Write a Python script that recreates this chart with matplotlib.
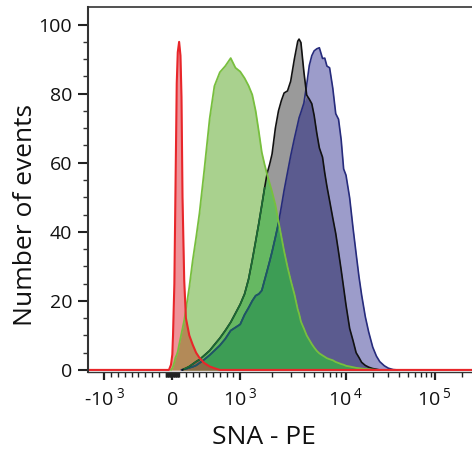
import numpy as np
import matplotlib
matplotlib.use("Agg")
import matplotlib.pyplot as plt
from matplotlib.ticker import FixedLocator, FixedFormatter, NullFormatter

plt.rcParams["font.family"] = ["Open Sans", "DejaVu Sans"]
plt.rcParams["mathtext.fontset"] = "custom"
plt.rcParams["mathtext.rm"] = "Open Sans"
plt.rcParams["mathtext.it"] = "Open Sans:italic"
plt.rcParams["mathtext.bf"] = "Open Sans:bold"

# fluorescence channel values (common bins for every histogram)
fluor = np.array([
    -1250, -300, -150, -50, -20, 0, 10, 30, 45, 65,
    80, 100, 120, 135, 150, 175, 200, 250, 300, 350,
    400, 470, 550, 620, 700, 780, 860, 930, 1000, 1100,
    1200, 1300, 1400, 1500, 1600, 1700, 1800, 1900, 2000, 2150,
    2300, 2450, 2600, 2800, 3000, 3250, 3500, 3600, 3750, 4000,
    4250, 4500, 4750, 5000, 5300, 5600, 6000, 6300, 6600, 7000,
    7500, 8000, 8500, 9000, 9500, 10000, 11000, 12000, 13000, 14000,
    15000, 16500, 18000, 20000, 22000, 24000, 27000, 30000, 34000, 38000,
    43000, 50000, 262144])

# unstained (red)
red = np.array([
    0, 0, 0, 0, 1.5, 4.5, 10, 25, 50, 83,
    92, 95, 91, 79, 50, 26, 15, 10, 7.3, 5,
    3.5, 2, 1, 0.5, 0, 0, 0, 0, 0, 0,
    0, 0, 0, 0, 0, 0, 0, 0, 0, 0,
    0, 0, 0, 0, 0, 0, 0, 0, 0, 0,
    0, 0, 0, 0, 0, 0, 0, 0, 0, 0,
    0, 0, 0, 0, 0, 0, 0, 0, 0, 0,
    0, 0, 0, 0, 0, 0, 0, 0, 0, 0,
    0, 0, 0])

# light green sample
green = np.array([
    0, 0, 0, 0, 0, 0.5, 1, 2.3, 3.5, 4.4,
    5.3, 7.3, 9.2, 10.6, 12, 14.4, 17.5, 24, 31.7, 38.3,
    45.4, 57.8, 72.8, 82.2, 86.2, 88, 90.3, 87.5, 86.4, 84.5,
    82.3, 79.7, 75, 69, 63, 59.5, 56.5, 54, 51.6, 47.8,
    43, 38.6, 34.4, 29.8, 26, 22, 17.5, 16.3, 14, 12,
    10, 8.7, 7.5, 6.5, 5.5, 4.8, 4.2, 3.8, 3.4, 3.1,
    2.8, 2.3, 2, 1.7, 1.5, 1.2, 1, 0.8, 0.6, 0.5,
    0.4, 0.3, 0.2, 0.1, 0, 0, 0, 0, 0, 0,
    0, 0, 0])

# grey sample (black outline)
black = np.array([
    0, 0, 0, 0, 0, 0, 0, 0, 0, 0,
    0, 0, 0, 0, 0, 0.3, 0.5, 1, 1.7, 2.4,
    3, 4.2, 5.6, 7.3, 9.2, 11.4, 13.8, 16.4, 19, 22,
    26.3, 31.8, 37.3, 42.5, 47.7, 52.7, 57, 59.6, 62.5, 70,
    75, 78, 80.2, 80.8, 83.6, 90, 95.2, 95.8, 94.8, 86.3,
    79.6, 78.4, 77.1, 73.7, 68.5, 64.3, 61.6, 57, 53.2, 49,
    44, 39.5, 34.2, 29, 23.8, 18.8, 12, 8.5, 5, 3.6,
    2.2, 1.3, 0.8, 0.4, 0.2, 0, 0, 0, 0, 0,
    0, 0, 0])

# blue sample
blue = np.array([
    0, 0, 0, 0, 0, 0, 0, 0, 0, 0,
    0, 0, 0, 0, 0.1, 0.2, 0.3, 0.6, 0.9, 1.3,
    2, 3, 4.3, 5.6, 7.1, 9, 11.4, 12.3, 13.2, 16,
    18, 20, 21.5, 22, 23, 26, 28.8, 31.5, 34.2, 38.4,
    42.5, 47.3, 52, 57.2, 62, 67, 71.3, 73, 74.6, 77.3,
    82.6, 88.2, 91, 92.4, 93, 93.3, 90.2, 90.3, 88, 87.5,
    81.6, 74.2, 72.6, 66.7, 58.2, 56.4, 49.8, 41.1, 33.7, 27,
    21.7, 15.4, 11, 6.6, 4, 2.4, 1.2, 0.5, 0.1, 0,
    0, 0, 0])

major_ticks = [-1000, 0, 1000, 10000, 100000]
major_labels = [r"-$\mathrm{10}^{\;3}$", "0", r"$\mathrm{10}^{\;3}$",
                r"$\mathrm{10}^{\;4}$", r"$\mathrm{10}^{\;5}$"]

# biexponential-like display: linear around zero, log above 10^3
K1 = 106 / 68
K2 = 89 / 68


def fwd(x):
    x = np.asarray(x, dtype=float)
    lg = np.log10(np.maximum(x, 1000) / 1000)
    lo = 1 + lg * K1
    hi = 1 + K1 + (lg - 1) * K2
    return np.where(x <= 1000, x / 1000, np.where(x <= 1e4, lo, hi))


def inv(u):
    u = np.asarray(u, dtype=float)
    lo = 1000 * 10 ** ((np.clip(u, 1, 1 + K1) - 1) / K1)
    hi = 1e4 * 10 ** ((np.maximum(u, 1 + K1) - 1 - K1) / K2)
    return np.where(u <= 1, u * 1000, np.where(u <= 1 + K1, lo, hi))


def visible(y):
    nz = y > 0
    keep = nz | np.roll(nz, 1) | np.roll(nz, -1)
    return np.where(keep, y, np.nan)


def under(y, g):
    m = (y <= g) & (y > 0)
    return np.where(m, y, np.nan)


fig = plt.figure(figsize=(4.72, 4.49), dpi=100)
ax = fig.add_axes([87.5 / 472, 1 - 372 / 449, 1 - 87.5 / 472, 365 / 449])
ax.set_xscale("function", functions=(fwd, inv))

# filled areas, overlaps painted explicitly
ax.fill_between(fluor, 0, blue, color="#9c9cca", lw=0)
ax.fill_between(fluor, 0, black, color="#9a9a9a", lw=0)
ax.fill_between(fluor, 0, np.minimum(black, blue), color="#5b5b8f", lw=0)
ax.fill_between(fluor, 0, green, color="#a9d18e", lw=0)
ax.fill_between(fluor, 0, np.minimum(green, np.maximum(black, blue)), color="#66b862", lw=0)
ax.fill_between(fluor, 0, np.minimum(green, np.minimum(black, blue)), color="#3d9d55", lw=0)

# outlines of grey and blue samples
ax.plot(fluor, visible(blue), color="#262b7c", lw=1.2)
ax.plot(fluor, under(blue, green), color="#1d5a62", lw=1.2)
ax.plot(fluor, visible(black), color="#111111", lw=1.2)
ax.plot(fluor, under(black, green), color="#1b6b35", lw=1.2)
ax.plot(fluor, visible(green), color="#78bf3e", lw=1.3)

# unstained on top
ax.fill_between(fluor, 0, red, color="#ef9399", lw=0)
ax.fill_between(fluor, 0, np.minimum(red, green), color="#b38a58", lw=0)
ax.fill_between(fluor, 0, np.minimum(red, np.minimum(green, np.maximum(black, blue))),
                color="#8a6b45", lw=0)
ax.plot(fluor, red, color="#e8262a", lw=1.5)

ax.set_xlim(-1250, 262144)
ax.set_ylim(-0.6, 105.1)

minor = ([-900, -800, -700, -600, -500, -400, -300, -200, -100,
          -90, -80, -70, -60, -50, -40, -30, -20, -10,
          10, 20, 30, 40, 50, 60, 70, 80, 90,
          100, 200, 300, 400, 500, 600, 700, 800, 900]
         + [m * 1000 for m in range(2, 10)]
         + [m * 10000 for m in range(2, 10)] + [200000])
ax.xaxis.set_major_locator(FixedLocator(major_ticks))
ax.xaxis.set_major_formatter(FixedFormatter(major_labels))
ax.xaxis.set_minor_locator(FixedLocator(minor))
ax.xaxis.set_minor_formatter(NullFormatter())
ax.yaxis.set_major_locator(FixedLocator([0, 20, 40, 60, 80, 100]))
ax.yaxis.set_minor_locator(FixedLocator([5, 10, 15, 25, 30, 35, 45, 50, 55,
                                         65, 70, 75, 85, 90, 95]))

ax.tick_params(axis="both", which="major", direction="out", color="#222222",
               labelsize=14, labelcolor="#111111")
ax.tick_params(axis="x", which="major", length=6, width=1.6, pad=18)
ax.tick_params(axis="x", which="minor", direction="out", length=3.5, width=1.0,
               color="#222222")
ax.tick_params(axis="y", which="major", length=7, width=1.5, pad=4)
ax.tick_params(axis="y", which="minor", direction="out", length=3.5, width=1.0,
               color="#333333")
for lab in ax.get_xticklabels():
    lab.set_va("baseline")

for side in ("left", "bottom", "top"):
    ax.spines[side].set_color("#333333")
ax.spines["left"].set_linewidth(1.5)
ax.spines["bottom"].set_linewidth(1.0)
ax.spines["top"].set_linewidth(1.2)
ax.spines["right"].set_visible(False)

ax.set_ylabel("Number of events", fontsize=19, color="#111111")
ax.yaxis.set_label_coords(-0.129, 0.43)
ax.set_xlabel("SNA - PE", fontsize=19, color="#111111")
ax.xaxis.label.set_va("baseline")
ax.xaxis.set_label_coords(0.459, -0.197)

fig.savefig("out.png", dpi=100)
